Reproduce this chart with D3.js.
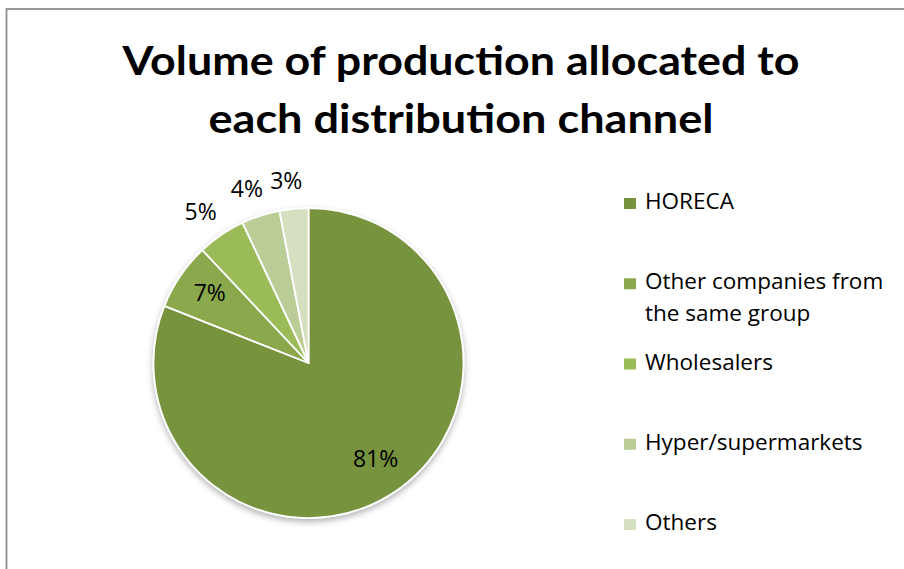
<!DOCTYPE html>
<html>
<head>
<meta charset="utf-8">
<script src="https://cdn.jsdelivr.net/npm/d3@7/dist/d3.min.js"></script>
<style>
  body { margin: 0; background: #fff; }
  svg { display: block; }
</style>
</head>
<body>
<svg id="chart" width="904" height="569"></svg>
<script>
// Distribution channels and their share of production volume (%)
const categories = ["HORECA", "Other companies from the same group", "Wholesalers", "Hyper/supermarkets", "Others"];
const legendLines = [["HORECA"], ["Other companies from", "the same group"], ["Wholesalers"], ["Hyper/supermarkets"], ["Others"]];
const shares = [81, 7, 5, 4, 3];
const sliceColors = ["#77933C", "#8BA84D", "#9BBB59", "#BACD96", "#D5E0C0"];
const titleLines = ["Volume of production allocated to", "each distribution channel"];

const svg = d3.select("#chart");
const W = 904, H = 569;

// chart area frame
svg.append("rect")
  .attr("x", 6.5).attr("y", 9)
  .attr("width", W + 10).attr("height", H + 10)
  .attr("fill", "#fff")
  .attr("stroke", "#8e8e8e")
  .attr("stroke-width", 1.8);

// title
const titleFont = "Lato, 'Open Sans', sans-serif";
const titleWidths = [677, 505];
svg.append("g").selectAll("text")
  .data(titleLines)
  .join("text")
  .attr("x", 461)
  .attr("y", (d, i) => 75 + i * 58)
  .attr("text-anchor", "middle")
  .attr("font-family", titleFont)
  .attr("font-weight", 700)
  .attr("font-size", 40)
  .attr("fill", "#000")
  .attr("textLength", (d, i) => titleWidths[i])
  .attr("lengthAdjust", "spacingAndGlyphs")
  .text(d => d);

// pie
const cx = 308.5, cy = 363, R = 155;
const data = categories.map((c, i) => ({ name: c, value: shares[i], color: sliceColors[i] }));
const pie = d3.pie().value(d => d.value).sort(null);
const arcs = pie(data);
const arc = d3.arc().innerRadius(0).outerRadius(R);

const defs = svg.append("defs");
const shadow = defs.append("filter").attr("id", "pieShadow")
  .attr("x", "-20%").attr("y", "-20%").attr("width", "140%").attr("height", "140%");
shadow.append("feDropShadow")
  .attr("dx", 0).attr("dy", 3)
  .attr("stdDeviation", 3)
  .attr("flood-color", "#000")
  .attr("flood-opacity", 0.3);

const pieG = svg.append("g")
  .attr("transform", `translate(${cx},${cy})`);

pieG.append("g")
  .attr("filter", "url(#pieShadow)")
  .selectAll("path")
  .data(arcs)
  .join("path")
  .attr("d", arc)
  .attr("fill", d => d.data.color)
  .attr("stroke", "#fff")
  .attr("stroke-width", 1.8)
  .attr("stroke-linejoin", "round");

// data labels: large slices inside, small slices just outside the rim
const labelFont = "'Open Sans', Lato, sans-serif";
const inner = d3.arc().innerRadius(R * 0.77).outerRadius(R * 0.77);
const outer = d3.arc().innerRadius(R + 28).outerRadius(R + 28);
pieG.append("g").selectAll("text")
  .data(arcs)
  .join("text")
  .attr("transform", d => {
    const isInside = d.data.value >= 7;
    const p = (isInside ? inner : outer).centroid(d);
    const shiftX = isInside ? 0 : -5;
    return `translate(${p[0] + shiftX},${p[1] - (isInside ? 3 : 0)})`;
  })
  .attr("text-anchor", "middle")
  .attr("dy", "0.36em")
  .attr("font-family", labelFont)
  .attr("font-size", 23)
  .attr("fill", "#000")
  .text(d => d.data.value + "%");

// legend
const legendY = d3.scalePoint().domain(categories).range([209, 530]);
const legend = svg.append("g");
const items = legend.selectAll("g")
  .data(data)
  .join("g")
  .attr("transform", d => `translate(0,${legendY(d.name)})`);
items.append("rect")
  .attr("x", 624).attr("y", -11)
  .attr("width", 12).attr("height", 11)
  .attr("fill", d => d.color);
items.append("text")
  .attr("x", 645)
  .attr("font-family", labelFont)
  .attr("font-size", 22.5)
  .attr("fill", "#000")
  .selectAll("tspan")
  .data((d, i) => legendLines[i])
  .join("tspan")
  .attr("x", 645)
  .attr("y", (d, i) => i * 32)
  .text(d => d);
</script>
</body>
</html>
